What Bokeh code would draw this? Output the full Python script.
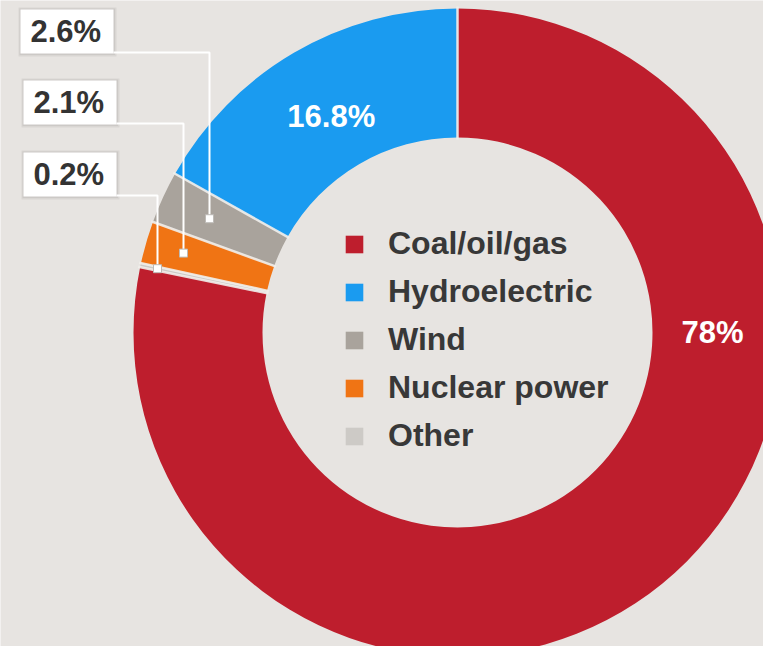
import math
from bokeh.plotting import figure
from bokeh.models import Range1d, Legend, LegendItem
from bokeh.core.properties import value
from bokeh.embed import file_html
from bokeh.resources import INLINE

# ---------------- data ----------------
categories = ["Coal/oil/gas", "Hydroelectric", "Wind", "Nuclear power", "Other"]
shares = [78.0, 16.8, 2.6, 2.1, 0.2]
colors = ["#be1e2d", "#1a9bf0", "#a9a39c", "#f07414", "#cdcac6"]
# order of slices going anticlockwise from 12 o'clock
ring_order = ["Hydroelectric", "Wind", "Nuclear power", "Other", "Coal/oil/gas"]
callout_categories = ["Wind", "Nuclear power", "Other"]

# ---------------- layout / style ----------------
W, H = 763, 646
BG = "#e7e4e1"
FONT_NAME = "Liberation Sans"
FONT = value(FONT_NAME)
CX, CY = 457, 322          # ring centre (data units = px, y up)
R_OUT, R_IN = 324, 195
SEP = "#f1eeeb"

def Y(y_ref):              # reference pixel row -> data y
    return 654 - y_ref

p = figure(width=W, height=H, output_backend="svg", toolbar_location=None,
           x_range=Range1d(0, W), y_range=Range1d(654 - H, 654),
           x_axis_type=None, y_axis_type=None, min_border=0,
           background_fill_color=BG, border_fill_color=BG, outline_line_color=None)
p.grid.visible = False

share_of = dict(zip(categories, shares))
color_of = dict(zip(categories, colors))
total = sum(shares)

angles = {}
a = math.pi / 2
for cat in ring_order:
    span = share_of[cat] / total * 2 * math.pi
    angles[cat] = (a, a + span)
    a += span

renderers = {}
for cat in ring_order:
    s, e = angles[cat]
    renderers[cat] = p.annular_wedge(x=[CX], y=[CY], inner_radius=R_IN, outer_radius=R_OUT,
                                     start_angle=[s], end_angle=[e],
                                     fill_color=color_of[cat], line_color=None)

# separators between slices
bx0, by0, bx1, by1 = [], [], [], []
for cat in ring_order:
    s, _ = angles[cat]
    bx0.append(CX + (R_IN - 2) * math.cos(s)); by0.append(CY + (R_IN - 2) * math.sin(s))
    bx1.append(CX + (R_OUT + 2) * math.cos(s)); by1.append(CY + (R_OUT + 2) * math.sin(s))
p.segment(x0=bx0, y0=by0, x1=bx1, y1=by1, line_color=SEP, line_width=2.5, line_alpha=0.9)

# labels inside the ring
def mid(cat):
    s, e = angles[cat]
    return (s + e) / 2

in_lab = [("Hydroelectric", mid("Hydroelectric"), 250), ("Coal/oil/gas", 0.0, 255)]
p.text(x=[CX + r * math.cos(t) for _, t, r in in_lab],
       y=[CY + r * math.sin(t) for _, t, r in in_lab],
       text=[f"{share_of[c]:g}%" for c, _, _ in in_lab],
       text_font=FONT, text_font_style="bold", text_font_size="31px",
       text_color="white", text_align="center", text_baseline="middle")

# callouts
box_top = [9, 80, 152]
box_left = [20, 23, 23]
box_w, box_h = 93, 44
line_x = [209, 183, 157]
for i, cat in enumerate(callout_categories):
    t = mid(cat)
    r = (line_x[i] - CX) / math.cos(t)
    dot_y = CY + r * math.sin(t)
    left, right = box_left[i], box_left[i] + box_w
    top, bot = Y(box_top[i]), Y(box_top[i] + box_h)
    # soft shadow
    p.quad(left=[left - 2], right=[right + 3], top=[top + 2], bottom=[bot - 3],
           fill_color="black", fill_alpha=0.06, line_color=None)
    p.quad(left=[left - 1], right=[right + 1.5], top=[top + 1], bottom=[bot - 1.5],
           fill_color="black", fill_alpha=0.06, line_color=None)
    p.quad(left=[left], right=[right], top=[top], bottom=[bot],
           fill_color="white", line_color=None)
    p.line(x=[right, line_x[i], line_x[i]], y=[bot + 1, bot + 1, dot_y],
           line_color="white", line_width=2)
    p.scatter(x=[line_x[i]], y=[dot_y], marker="square", size=8,
              fill_color="white", line_color="#bdbab6", line_width=1)
    p.text(x=[left + 10], y=[(top + bot) / 2], text=[f"{share_of[cat]:g}%"],
           text_font=FONT, text_font_style="bold", text_font_size="31px",
           text_color="#333333", text_align="left", text_baseline="middle")

legend = Legend(items=[LegendItem(label=c, renderers=[renderers[c]]) for c in categories],
                location=(343, 192), orientation="vertical",
                glyph_width=22, glyph_height=22, label_standoff=23, spacing=11,
                padding=0, margin=0, background_fill_alpha=0, border_line_color=None,
                label_text_font=FONT_NAME, label_text_font_style="bold",
                label_text_font_size="32px", label_text_color="#383838")
p.add_layout(legend, "center")

open("out.html", "w").write(file_html(p, INLINE))
